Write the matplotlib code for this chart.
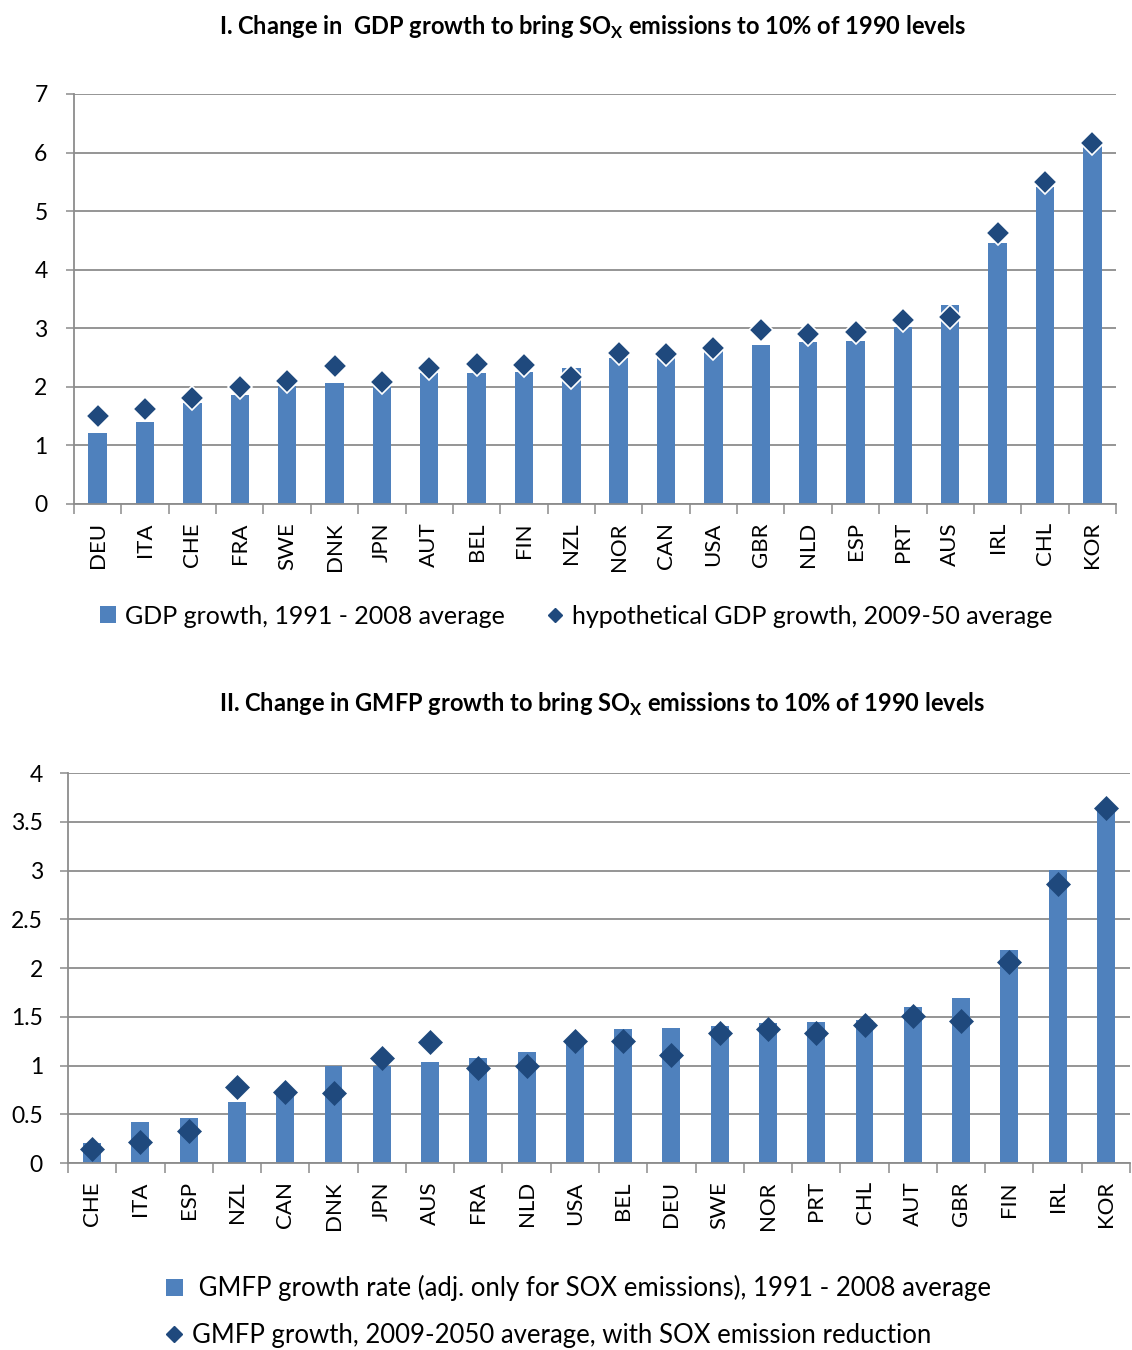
import matplotlib
matplotlib.use("Agg")
import matplotlib.pyplot as plt
from matplotlib.lines import Line2D
from matplotlib.patches import Patch
import numpy as np

plt.rcParams['font.family'] = ['Lato', 'DejaVu Sans']
plt.rcParams['mathtext.fontset'] = 'custom'
plt.rcParams['mathtext.rm'] = 'Lato'
plt.rcParams['mathtext.bf'] = 'Lato:bold'

# ---- Data: chart I ----
cats1 = ["DEU", "ITA", "CHE", "FRA", "SWE", "DNK", "JPN", "AUT", "BEL", "FIN", "NZL",
         "NOR", "CAN", "USA", "GBR", "NLD", "ESP", "PRT", "AUS", "IRL", "CHL", "KOR"]
gdp_hist = [1.22, 1.40, 1.73, 1.86, 2.01, 2.07, 2.14, 2.24, 2.24, 2.25, 2.32,
            2.49, 2.53, 2.64, 2.71, 2.76, 2.78, 3.02, 3.39, 4.45, 5.42, 6.12]
gdp_hyp = [1.51, 1.62, 1.81, 1.99, 2.10, 2.36, 2.09, 2.33, 2.39, 2.37, 2.17,
           2.58, 2.56, 2.67, 2.97, 2.91, 2.93, 3.15, 3.19, 4.63, 5.49, 6.17]
yticks1 = [0, 1, 2, 3, 4, 5, 6, 7]

# ---- Data: chart II ----
cats2 = ["CHE", "ITA", "ESP", "NZL", "CAN", "DNK", "JPN", "AUS", "FRA", "NLD", "USA",
         "BEL", "DEU", "SWE", "NOR", "PRT", "CHL", "AUT", "GBR", "FIN", "IRL", "KOR"]
gmfp_hist = [0.21, 0.42, 0.46, 0.63, 0.73, 1.00, 1.00, 1.04, 1.08, 1.135, 1.25,
             1.37, 1.38, 1.41, 1.44, 1.45, 1.47, 1.60, 1.69, 2.18, 3.01, 3.64]
gmfp_red = [0.14, 0.215, 0.33, 0.78, 0.73, 0.72, 1.08, 1.24, 0.97, 1.00, 1.25,
            1.25, 1.11, 1.33, 1.37, 1.33, 1.42, 1.51, 1.46, 2.06, 2.86, 3.64]
yticks2 = [0, 0.5, 1, 1.5, 2, 2.5, 3, 3.5, 4]
ytick2_labels = ["0", "0.5", "1", "1.5", "2", "2.5", "3", "3.5", "4"]

BAR = "#4F81BD"
DIA = "#1F497D"
GRID = "#8C8C8C"

W, H = 1132, 1350
fig = plt.figure(figsize=(W / 100, H / 100), dpi=100)


def px_axes(left, top, right, bottom):
    return fig.add_axes([left / W, 1 - bottom / H, (right - left) / W, (bottom - top) / H])


def style(ax, cats, yticks, ylabels, ylim, ypad):
    n = len(cats)
    ax.set_xlim(-0.5, n - 0.5)
    ax.set_ylim(*ylim)
    ax.set_yticks(yticks)
    ax.set_yticklabels(ylabels)
    ax.set_xticks(np.arange(n))
    ax.set_xticklabels(cats, rotation=90)
    ax.set_xticks(np.arange(n + 1) - 0.5, minor=True)
    ax.tick_params(axis='x', which='major', length=0, pad=13, labelsize=16)
    ax.tick_params(axis='x', which='minor', length=7, width=1.1, color=GRID, direction='out')
    ax.tick_params(axis='y', length=6, width=1.1, color=GRID, pad=ypad, labelsize=16.5)
    for s in ['top', 'right']:
        ax.spines[s].set_visible(False)
    for s in ['left', 'bottom']:
        ax.spines[s].set_color(GRID)
        ax.spines[s].set_linewidth(1.3)
    ax.yaxis.grid(True, color=GRID, linewidth=1.3)
    ax.set_axisbelow(True)


# ---- Chart I ----
ax1 = px_axes(74, 94, 1116, 504)
x1 = np.arange(len(cats1))
ax1.bar(x1, gdp_hist, width=0.39, color=BAR, edgecolor='none', zorder=2)
ax1.plot(x1, gdp_hyp, linestyle='none', marker='D', markersize=12, color=DIA,
         markeredgecolor='white', markeredgewidth=1.2, zorder=3)
style(ax1, cats1, yticks1, [str(v) for v in yticks1], (0, 7), 13)

fig.text(593 / W, 1 - 27 / H,
         r"I. Change in  GDP growth to bring SO$_\mathbf{X}$ emissions to 10% of 1990 levels",
         ha='center', va='center', fontsize=17, fontweight='bold')

h1 = [Patch(facecolor=BAR, edgecolor='none'),
      Line2D([], [], linestyle='none', marker='D', markersize=7, color=DIA)]
fig.legend(h1, ["GDP growth, 1991 - 2008 average", "hypothetical GDP growth, 2009-50 average"],
           loc='center', bbox_to_anchor=(576 / W, 1 - 616 / H), ncol=2, frameon=False,
           fontsize=18, handlelength=0.65, handleheight=0.65, handletextpad=0.35,
           columnspacing=1.7)

# ---- Chart II ----
ax2 = px_axes(68, 773, 1130, 1163)
x2 = np.arange(len(cats2))
ax2.bar(x2, gmfp_hist, width=0.37, color=BAR, edgecolor='none', zorder=2)
ax2.plot(x2, gmfp_red, linestyle='none', marker='D', markersize=12.5, color=DIA,
         markeredgecolor=DIA, markeredgewidth=0.5, zorder=3)
style(ax2, cats2, yticks2, ytick2_labels, (0, 4), 12)

fig.text(602 / W, 1 - 704 / H,
         r"II. Change in GMFP growth to bring SO$_\mathbf{X}$ emissions to 10% of 1990 levels",
         ha='center', va='center', fontsize=17, fontweight='bold')

h2 = [Patch(facecolor=BAR, edgecolor='none'),
      Line2D([], [], linestyle='none', marker='D', markersize=8.5, color=DIA)]
fig.legend(h2, [" GMFP growth rate (adj. only for SOX emissions), 1991 - 2008 average",
                "GMFP growth, 2009-2050 average, with SOX emission reduction"],
           loc='upper left', bbox_to_anchor=(166 / W, 1 - 1275 / H), ncol=1, frameon=False,
           fontsize=18.5, handlelength=0.65, handleheight=0.65, handletextpad=0.35,
           labelspacing=0.85, borderaxespad=0, borderpad=0)

fig.savefig("out.png", dpi=100, facecolor='white')
